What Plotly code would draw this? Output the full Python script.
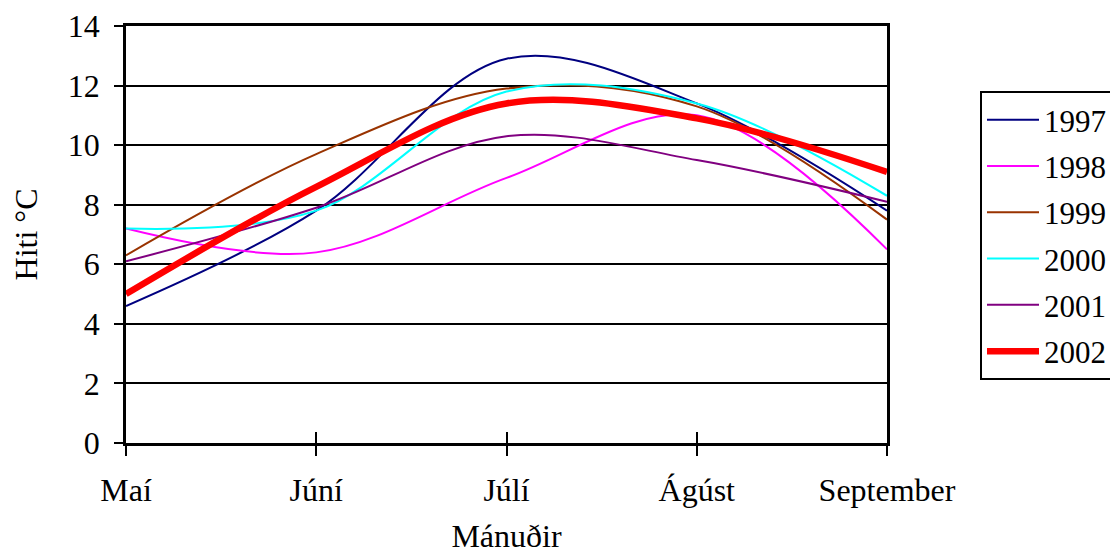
import plotly.graph_objects as go

months = ["Maí", "Júní", "Júlí", "Ágúst", "September"]
years = ["1997", "1998", "1999", "2000", "2001", "2002"]
t1997 = [4.6, 7.8, 12.9, 11.4, 7.8]
t1998 = [7.2, 6.4, 8.9, 11.0, 6.5]
t1999 = [6.3, 9.7, 11.9, 11.3, 7.5]
t2000 = [7.2, 7.8, 11.8, 11.4, 8.3]
t2001 = [6.1, 7.9, 10.3, 9.5, 8.1]
t2002 = [5.0, 8.6, 11.4, 10.9, 9.1]
series = [t1997, t1998, t1999, t2000, t2001, t2002]
colors = ["#000080", "#FF00FF", "#993300", "#00FFFF", "#800080", "#FF0000"]
widths = [2, 2, 2, 2, 2, 6.5]
yticks = [0, 2, 4, 6, 8, 10, 12, 14]

FONT = "Liberation Serif, Times New Roman, serif"
FS = 32
xpos = list(range(len(months)))

# the page body adds an 8px offset; margins compensate so the plot area sits at
# x 126..887 and y 26..443 in the window
OFF = 8
L, T, PW, PH = 126 - OFF, 26 - OFF, 761, 417
R = 1118 - L - PW
B = 556 - T - PH

fig = go.Figure()
for name, vals, c, w in zip(years, series, colors, widths):
    fig.add_trace(go.Scatter(
        x=xpos, y=vals, name=name, mode="lines",
        line=dict(color=c, width=w, shape="spline", smoothing=1.0),
        legendgroup=name,
    ))

# invisible trace on the second x axis to draw inside (crossing) ticks
fig.add_trace(go.Scatter(x=[xpos[0], xpos[-1]], y=[None, None], xaxis="x2",
                         showlegend=False, hoverinfo="skip", mode="lines"))

fig.update_layout(
    width=1118, height=556,
    margin=dict(l=L, r=R, t=T, b=B),
    paper_bgcolor="white", plot_bgcolor="white",
    font=dict(family=FONT, size=FS, color="black"),
    xaxis=dict(
        range=[0, len(months) - 1], tickvals=xpos, ticktext=months,
        showgrid=False, zeroline=False, automargin=False,
        showline=True, linecolor="black", linewidth=2.5, mirror=True,
        ticks="outside", ticklen=10, tickwidth=2, tickcolor="black",
        ticklabelstandoff=7,
        title=dict(text="Mánuðir", standoff=18, font=dict(size=FS)),
        tickfont=dict(size=FS),
    ),
    xaxis2=dict(
        overlaying="x", side="bottom", anchor="y",
        range=[0, len(months) - 1], tickvals=xpos, showticklabels=False,
        showgrid=False, zeroline=False, showline=False, automargin=False,
        ticks="inside", ticklen=11, tickwidth=2, tickcolor="black",
    ),
    yaxis=dict(
        range=[0, 14], tickvals=yticks,
        showgrid=True, gridcolor="black", gridwidth=2,
        zeroline=False, automargin=False,
        showline=True, linecolor="black", linewidth=2.5, mirror=True,
        ticks="outside", ticklen=9, tickwidth=2, tickcolor="black",
        ticklabelstandoff=8,
        title=dict(text="Hiti °C", standoff=27, font=dict(size=FS)),
        tickfont=dict(size=FS),
    ),
    legend=dict(
        x=(980 - 126) / PW, y=(443 - 91) / PH, xanchor="left", yanchor="top",
        bordercolor="black", borderwidth=2, bgcolor="white",
        font=dict(size=31), traceorder="grouped", tracegroupgap=3,
        itemwidth=52,
    ),
    showlegend=True,
)

fig.write_html("out.html")
